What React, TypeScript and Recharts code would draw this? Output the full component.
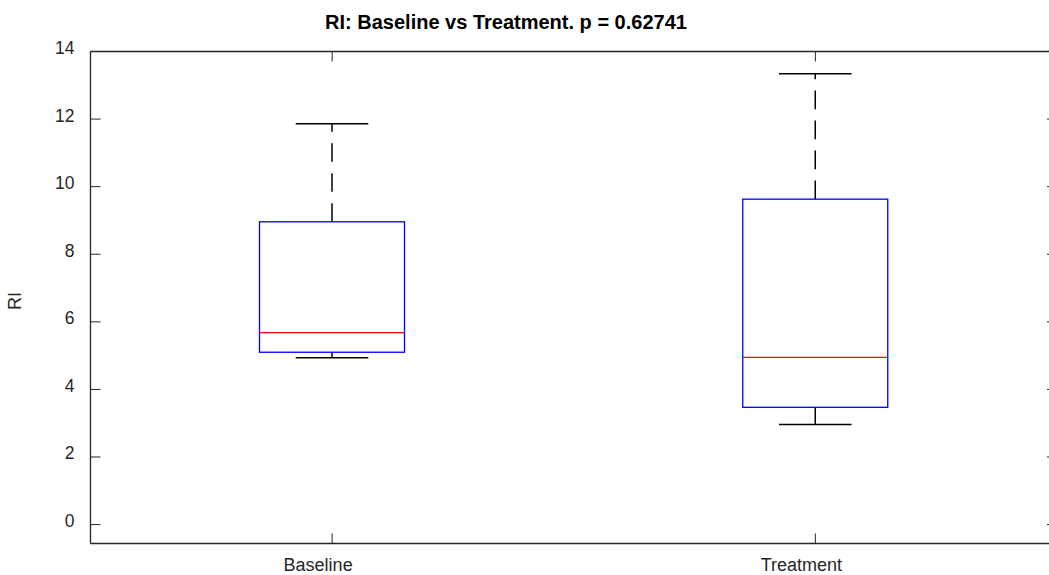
import React from 'react';
import { ComposedChart, Bar, XAxis, YAxis } from 'recharts';

// ---- data ----
const categories = ['Baseline', 'Treatment'];
const whiskerLow = [4.94, 2.96];
const quartile1 = [5.1, 3.47];
const medians = [5.68, 4.95];
const quartile3 = [8.96, 9.63];
const whiskerHigh = [11.86, 13.34];
const yTicks = [0, 2, 4, 6, 8, 10, 12, 14];
const yDomain = [-0.56, 14];
const titleText = 'RI: Baseline vs Treatment. p = 0.62741';
const yLabelText = 'RI';

const data = categories.map((name, i) => ({
  name,
  range: [whiskerLow[i], whiskerHigh[i]],
  low: whiskerLow[i],
  q1: quartile1[i],
  median: medians[i],
  q3: quartile3[i],
  high: whiskerHigh[i],
}));

const FONT = '"Liberation Sans", Arial, Helvetica, sans-serif';
const AXIS = '#262626';
const TICK_LEN = 10;

const BoxShape = (props: any) => {
  const { x, y, width, height, payload } = props;
  if (!payload) return null;
  const { low, high, q1, median, q3 } = payload;
  const top = Math.min(y, y + height);
  const h = Math.abs(height);
  const py = (v: number) => top + ((high - v) / (high - low)) * h;
  const cx = x + width / 2;
  const capHalf = width / 4;
  const yHigh = py(high);
  const yLow = py(low);
  const yQ1 = py(q1);
  const yQ3 = py(q3);
  const yMed = py(median);
  return (
    <g>
      <line x1={cx} x2={cx} y1={yQ3} y2={yHigh} stroke="#000" strokeWidth={1.5} strokeDasharray="18.6 11.4" />
      <line x1={cx} x2={cx} y1={yQ1} y2={yLow} stroke="#000" strokeWidth={1.5} strokeDasharray="18.6 11.4" />
      <line x1={cx - capHalf} x2={cx + capHalf} y1={yHigh} y2={yHigh} stroke="#000" strokeWidth={1.5} />
      <line x1={cx - capHalf} x2={cx + capHalf} y1={yLow} y2={yLow} stroke="#000" strokeWidth={1.5} />
      <rect x={x} y={yQ3} width={width} height={yQ1 - yQ3} fill="none" stroke="#0000ff" strokeWidth={1.3} />
      <line x1={x} x2={x + width} y1={yMed} y2={yMed} stroke="#ff0000" strokeWidth={1.3} />
    </g>
  );
};

const BottomTick = (props: any) => {
  const { x, y, payload } = props;
  return (
    <g>
      <line x1={x} x2={x} y1={y} y2={y - TICK_LEN} stroke={AXIS} strokeWidth={1} />
      <text x={x - 14} y={y + 27.5} textAnchor="middle" fontFamily={FONT} fontSize={18} fill="#262626">
        {payload.value}
      </text>
    </g>
  );
};

const TopTick = (props: any) => {
  const { x, y } = props;
  return <line x1={x} x2={x} y1={y} y2={y + TICK_LEN} stroke={AXIS} strokeWidth={1} />;
};

const LeftTick = (props: any) => {
  const { x, y, payload } = props;
  return (
    <g>
      <line x1={x} x2={x + TICK_LEN} y1={y} y2={y} stroke={AXIS} strokeWidth={1} />
      <text x={x - 16} y={y + 2.5} textAnchor="end" fontFamily={FONT} fontSize={17.5} fill="#262626">
        {payload.value}
      </text>
    </g>
  );
};

const RightTick = (props: any) => {
  const { x, y } = props;
  return <line x1={x} x2={x - TICK_LEN} y1={y} y2={y} stroke={AXIS} strokeWidth={1} />;
};

export default function App() {
  return (
    <div
      style={{
        position: 'absolute',
        left: 0,
        top: 0,
        width: 1049,
        height: 575,
        overflow: 'hidden',
        background: '#fff',
      }}
    >
      <svg
        width={1049}
        height={575}
        style={{ position: 'absolute', left: 0, top: 0, pointerEvents: 'none', zIndex: 2 }}
      >
        <text x={506} y={29} textAnchor="middle" fontFamily={FONT} fontSize={20} fontWeight="bold" fill="#000">
          {titleText}
        </text>
        <text
          x={21}
          y={301}
          textAnchor="middle"
          fontFamily={FONT}
          fontSize={18}
          fill="#262626"
          transform="rotate(-90 21 301)"
        >
          {yLabelText}
        </text>
      </svg>
      <ComposedChart
        width={1058}
        height={575}
        data={data}
        margin={{ top: 50.5, right: 0, bottom: 30.5, left: 0 }}
      >
        <XAxis
          xAxisId="bottom"
          dataKey="name"
          orientation="bottom"
          height={1}
          tickSize={0}
          tickMargin={0}
          axisLine={{ stroke: AXIS, strokeWidth: 1.3 }}
          tickLine={false}
          tick={<BottomTick />}
          interval={0}
        />
        <XAxis
          xAxisId="top"
          dataKey="name"
          orientation="top"
          height={1}
          tickSize={0}
          tickMargin={0}
          axisLine={{ stroke: AXIS, strokeWidth: 1.3 }}
          tickLine={false}
          tick={<TopTick />}
          interval={0}
        />
        <YAxis
          yAxisId="left"
          type="number"
          orientation="left"
          width={90.5}
          domain={yDomain}
          ticks={yTicks}
          allowDataOverflow
          tickSize={0}
          tickMargin={0}
          axisLine={{ stroke: AXIS, strokeWidth: 1.3 }}
          tickLine={false}
          tick={<LeftTick />}
          interval={0}
        />
        <YAxis
          yAxisId="right"
          type="number"
          orientation="right"
          width={1}
          domain={yDomain}
          ticks={yTicks}
          allowDataOverflow
          tickSize={0}
          tickMargin={0}
          axisLine={{ stroke: AXIS, strokeWidth: 1.3 }}
          tickLine={false}
          tick={<RightTick />}
          interval={0}
        />
        <Bar
          xAxisId="bottom"
          yAxisId="left"
          dataKey="range"
          barSize={145}
          fill="none"
          shape={<BoxShape />}
          isAnimationActive={false}
        />
      </ComposedChart>
    </div>
  );
}
